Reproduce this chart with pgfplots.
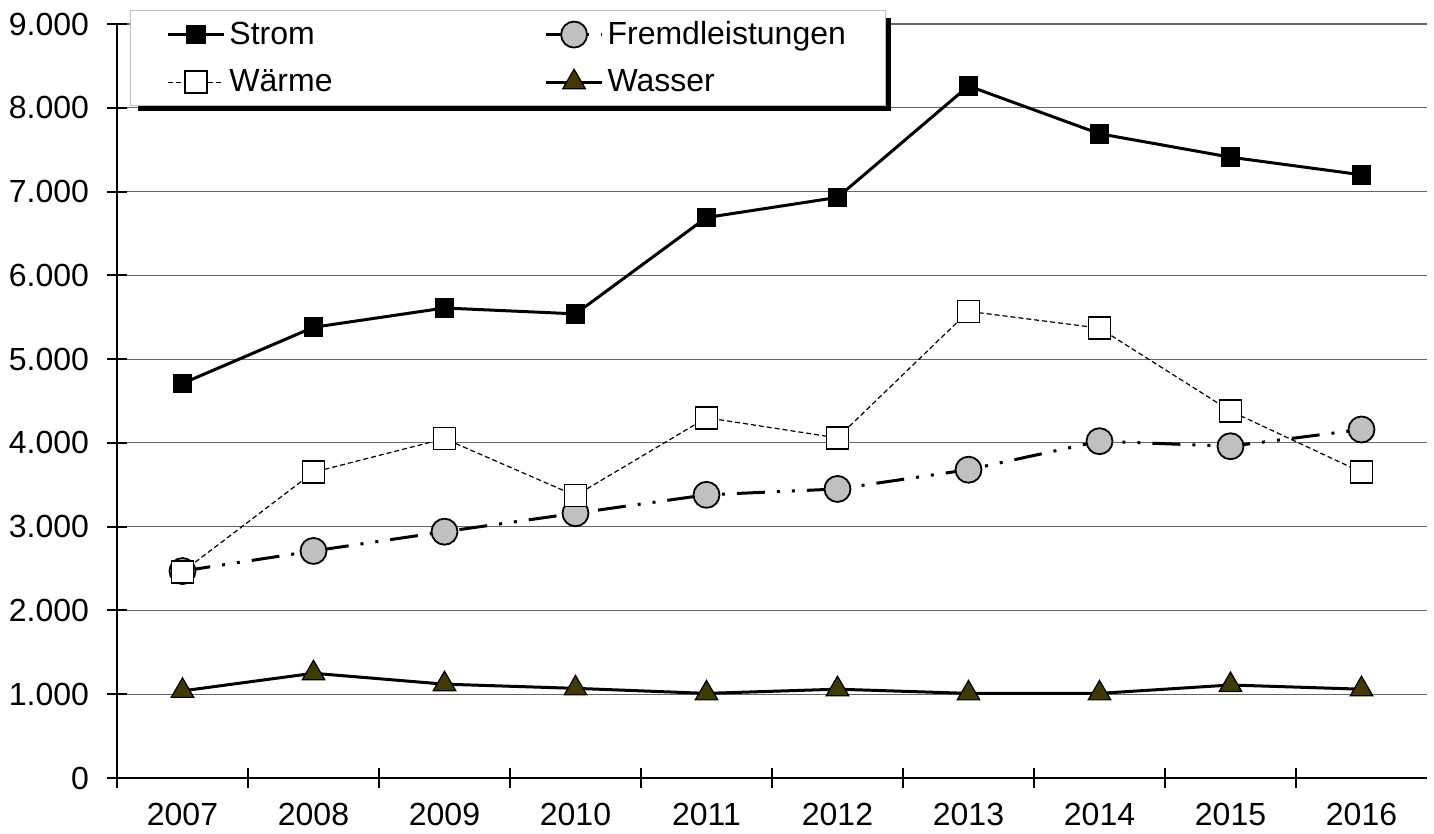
\documentclass[border=0pt]{standalone}
\usepackage{pgfplots}
\pgfplotsset{compat=1.18}
\usepackage{fontspec}
\setmainfont{Liberation Sans}
\definecolor{wasserfill}{RGB}{64,58,0}
\definecolor{fremdfill}{RGB}{192,192,192}
\begin{document}
\begin{tikzpicture}
\begin{axis}[
  scale only axis, width=655pt, height=377pt,
  xmin=2006.5, xmax=2016.5, ymin=0, ymax=9000,
  axis x line=bottom, axis y line=left,
  axis line style={-, line width=1pt},
  xtick={2007,2008,2009,2010,2011,2012,2013,2014,2015,2016},
  xticklabels={2007,2008,2009,2010,2011,2012,2013,2014,2015,2016},
  minor xtick={2006.5,2007.5,2008.5,2009.5,2010.5,2011.5,2012.5,2013.5,2014.5,2015.5},
  major x tick style={draw=none},
  minor x tick style={line width=1pt, black},
  major y tick style={line width=1pt, black},
  tick align=center, major tick length=10pt, minor tick length=10pt,
  ytick={0,1000,...,9000},
  ymajorgrids, major grid style={black!60, line width=0.6pt},
  /pgf/number format/1000 sep={.},
  /pgf/number format/assume math mode=true,
  tick label style={font=\fontsize{16}{19}\selectfont, black},
  xticklabel style={yshift=-4pt},
  yticklabel style={xshift=-5.5pt},
  legend columns=2,
  legend cell align=left,
  legend style={at={(rel axis cs:0.0099,1.0186)}, anchor=north west,
    name=leg,
    draw=black!25, fill=white, line width=0.5pt,
    font=\fontsize{16}{19}\selectfont,
    inner xsep=18pt, inner ysep=3.5pt, row sep=7pt},
  /tikz/every even column/.append style={column sep=104pt},
  legend image code/.code={\draw[mark repeat=2,mark phase=2] plot coordinates {(0pt,0pt)(14pt,0pt)(28pt,0pt)};},
]
\addplot[black, line width=1.5pt, mark=square*, mark size=4.2pt, mark options={solid, fill=black}]
coordinates {(2007,4710)(2008,5380)(2009,5610)(2010,5540)(2011,6690)(2012,6930)(2013,8260)(2014,7690)(2015,7410)(2016,7200)};
\addlegendentry{Strom}
\addplot[black, line width=1.5pt, dash pattern=on 14pt off 6pt on 1.5pt off 6pt on 1.5pt off 6pt, mark=*, mark size=6.5pt, mark options={solid, fill=fremdfill, line width=0.9pt}]
coordinates {(2007,2470)(2008,2710)(2009,2940)(2010,3160)(2011,3380)(2012,3450)(2013,3680)(2014,4020)(2015,3960)(2016,4160)};
\addlegendentry{Fremdleistungen}
\addplot[black, line width=0.6pt, dash pattern=on 2.5pt off 1.5pt, mark=square*, mark size=5.5pt, mark options={solid, fill=white, line width=0.8pt}]
coordinates {(2007,2460)(2008,3650)(2009,4050)(2010,3370)(2011,4300)(2012,4060)(2013,5570)(2014,5370)(2015,4380)(2016,3650)};
\addlegendentry{Wärme}
\addplot[black, line width=1.5pt, mark=triangle*, mark size=6.5pt, mark options={solid, fill=wasserfill, line width=0.6pt}]
coordinates {(2007,1040)(2008,1250)(2009,1120)(2010,1070)(2011,1010)(2012,1060)(2013,1010)(2014,1010)(2015,1110)(2016,1060)};
\addlegendentry{Wasser}
\end{axis}
\fill[black] ([xshift=4pt]leg.south west) rectangle ([xshift=2.5pt,yshift=-2.5pt]leg.south east);
\fill[black] ([yshift=-4pt]leg.north east) rectangle ([xshift=2.5pt,yshift=-2.5pt]leg.south east);
\path ([xshift=-58.5pt, yshift=-28pt]current axis.south west) rectangle ([xshift=3.5pt, yshift=12pt]current axis.north east);
\end{tikzpicture}
\end{document}
